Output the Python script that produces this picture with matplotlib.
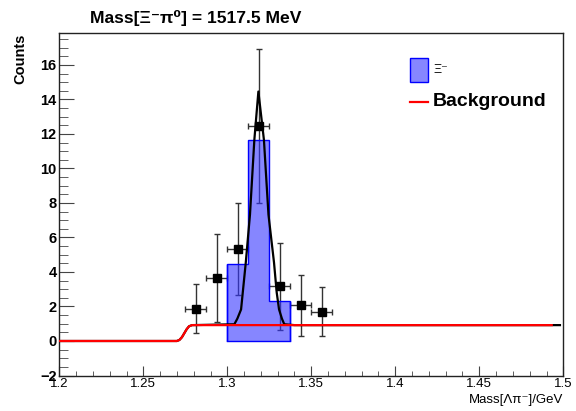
import matplotlib
matplotlib.use("Agg")
import matplotlib.pyplot as plt
from matplotlib.patches import Rectangle
from matplotlib.lines import Line2D
from matplotlib.ticker import MultipleLocator

plt.rcParams['font.family'] = ['Liberation Sans', 'DejaVu Sans']

# histogram (signal MC), bin edges and contents
bin_edges = [1.3, 1.3125, 1.325, 1.3375]
bin_counts = [4.48, 11.67, 2.30]

# data points with asymmetric errors
pt_x = [1.28125, 1.29375, 1.30625, 1.31875, 1.33125, 1.34375, 1.35625]
pt_y = [1.87, 3.67, 5.34, 12.48, 3.20, 2.06, 1.68]
pt_up = [3.28, 6.23, 8.02, 16.93, 5.69, 3.80, 3.12]
pt_lo = [0.45, 1.12, 2.66, 8.02, 0.62, 0.29, 0.29]
pt_xerr = 0.00625

# total fit curve
fit_x = [1.2, 1.2700, 1.2715, 1.2730, 1.2744, 1.2758, 1.2772, 1.2790, 1.3042, 1.3060,
         1.3082, 1.3110, 1.3135, 1.3161, 1.3185, 1.3218, 1.3245, 1.3278, 1.3294,
         1.3308, 1.3325, 1.3339, 1.3400, 1.498]
fit_y = [0.0, 0.0, 0.06, 0.22, 0.45, 0.68, 0.85, 0.92, 0.97, 1.3,
         1.83, 4.55, 7.33, 11.66, 14.46, 11.66, 7.33, 4.55, 2.82,
         1.83, 1.3, 0.97, 0.92, 0.92]

# background curve
bkg_x = [1.2, 1.2700, 1.2715, 1.2730, 1.2744, 1.2758, 1.2772, 1.2790, 1.4931]
bkg_y = [0.0, 0.0, 0.06, 0.22, 0.45, 0.68, 0.85, 0.92, 0.92]

W, H = 576, 411
fig = plt.figure(figsize=(W / 100, H / 100), dpi=100)
ax = fig.add_axes([59.3 / W, 1 - 375.5 / H, (563.3 - 59.3) / W, (375.5 - 32.7) / H])

yerr = [[y - lo for y, lo in zip(pt_y, pt_lo)], [up - y for y, up in zip(pt_y, pt_up)]]
ax.errorbar(pt_x, pt_y, xerr=pt_xerr, yerr=yerr, fmt='s', color='black', ms=5.5,
            ecolor='#333333', elinewidth=1, capsize=2.5, capthick=1, zorder=2)

widths = [b - a for a, b in zip(bin_edges[:-1], bin_edges[1:])]
ax.bar(bin_edges[:-1], bin_counts, width=widths, align='edge', color='#3535ff',
       alpha=0.6, linewidth=0, zorder=3)
ax.stairs(bin_counts, bin_edges, color='blue', linewidth=1, zorder=3)
ax.plot([bin_edges[0], bin_edges[-1]], [0, 0], color='blue', lw=1, zorder=3)
ax.vlines([bin_edges[0], bin_edges[-1]], 0, [bin_counts[0], bin_counts[-1]],
          color='blue', lw=1, zorder=3)

ax.plot(fit_x, fit_y, color='black', lw=1.6, zorder=4)
ax.plot(bkg_x, bkg_y, color='red', lw=1.6, zorder=5)

ax.set_xlim(1.2, 1.5)
ax.set_ylim(-2, 17.87)
ax.xaxis.set_major_locator(MultipleLocator(0.05))
ax.xaxis.set_minor_locator(MultipleLocator(0.01))
ax.yaxis.set_major_locator(MultipleLocator(2))
ax.yaxis.set_minor_locator(MultipleLocator(0.5))
ax.set_xticks([1.2, 1.25, 1.3, 1.35, 1.4, 1.45, 1.5])
ax.set_xticklabels(['1.2', '1.25', '1.3', '1.35', '1.4', '1.45', '1.5'])
ax.tick_params(which='both', direction='in', top=False, right=False, color='#444444')
ax.tick_params(axis='x', which='major', length=7.2, pad=2, labelsize=9.5)
ax.tick_params(axis='x', which='minor', length=3.6)
ax.tick_params(axis='y', which='major', length=10.8, pad=2, labelsize=10.5)
ax.tick_params(axis='y', which='minor', length=6.3)
for lab in ax.get_yticklabels():
    lab.set_fontweight('bold')
for s in ax.spines.values():
    s.set_linewidth(1)
    s.set_color('#222222')

fig.text(90 / W, 1 - 18 / H, 'Mass[Ξ⁻π⁰] = 1517.5 MeV', ha='left', va='center',
         fontsize=12.6, fontweight='bold')
fig.text(20 / W, 1 - 34 / H, 'Counts', rotation=90, ha='center', va='top',
         fontsize=10.5, fontweight='bold')
fig.text(563 / W, 1 - 400 / H, 'Mass[Λπ⁻]/GeV', ha='right', va='center', fontsize=9.5)

# legend
fig.patches.append(Rectangle((410 / W, 1 - 82 / H), 18 / W, 24 / H, transform=fig.transFigure,
                             facecolor='#3535ff', alpha=0.6, edgecolor='none'))
fig.patches.append(Rectangle((410 / W, 1 - 82 / H), 18 / W, 24 / H, transform=fig.transFigure,
                             facecolor='none', edgecolor='blue', lw=1))
fig.text(433 / W, 1 - 70 / H, 'Ξ⁻', ha='left', va='center', fontsize=9)
fig.lines.append(Line2D([410 / W, 428 / W], [1 - 101.7 / H, 1 - 101.7 / H],
                        transform=fig.transFigure, color='red', lw=1.6))
fig.text(433 / W, 1 - 102 / H, 'Background', ha='left', va='center', fontsize=14,
         fontweight='bold')

fig.savefig('out.png', dpi=100)
